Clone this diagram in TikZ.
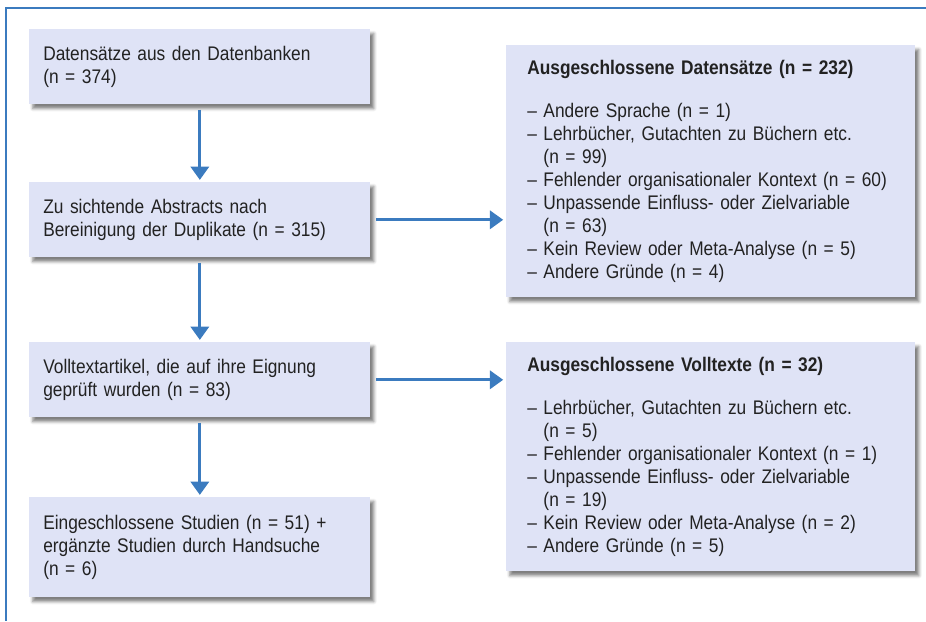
\documentclass[tikz,border=0pt]{standalone}
\usepackage{fontspec}
\setmainfont{Liberation Sans}[FakeStretch=0.88]
\usetikzlibrary{positioning,arrows.meta,calc,shadows.blur}
\definecolor{rahmen}{HTML}{3B7BBF}
\definecolor{kasten}{HTML}{DFE3F6}
\definecolor{schrift}{HTML}{222222}
\newcommand{\weiter}{\phantom{–}\ }

\begin{document}
\begin{tikzpicture}[x=0.025cm,y=-0.025cm,
  box/.style={fill=kasten,anchor=north west,align=left,text=schrift,
    blur shadow={shadow xshift=2.5pt,shadow yshift=-3pt,shadow opacity=50},
    font=\fontsize{14}{16.4}\selectfont},
  lbox/.style={box,inner xsep=0.35cm,text width=7.825cm},
  rbox/.style={box,inner xsep=0.525cm,text width=9.175cm},
  pfeil/.style={draw=rahmen,line width=2.1pt,-{Triangle[width=13pt,length=9.5pt]}}]
\useasboundingbox (0,0) rectangle (926,621);
\draw[rahmen,line width=1.5pt] (926,8) -- (6,8) -- (6,621);
% linke Spalte
\node[lbox,minimum height=1.875cm] (daten) at (29,29) {Datensätze aus den Datenbanken\\(n = 374)};
\node[lbox,minimum height=1.875cm] (abstracts) at (29,182) {Zu sichtende Abstracts nach\\Bereinigung der Duplikate (n = 315)};
\node[lbox,minimum height=1.875cm] (volltext) at (29,342) {Volltextartikel, die auf ihre Eignung\\geprüft wurden (n = 83)};
\node[lbox,minimum height=2.5cm] (studien) at (29,497) {Eingeschlossene Studien (n = 51) +\\ergänzte Studien durch Handsuche\\(n = 6)};
% rechte Spalte
\node[rbox,minimum height=6.3cm] (ausdaten) at (506,45) {\textbf{Ausgeschlossene Datensätze (n = 232)}\\[14pt]
– Andere Sprache (n = 1)\\
– Lehrbücher, Gutachten zu Büchern etc.\\
\weiter(n = 99)\\
– Fehlender organisationaler Kontext (n = 60)\\
– Unpassende Einfluss- oder Zielvariable\\
\weiter(n = 63)\\
– Kein Review oder Meta-Analyse (n = 5)\\
– Andere Gründe (n = 4)};
\node[rbox,minimum height=5.725cm] (ausvoll) at (506,342) {\textbf{Ausgeschlossene Volltexte (n = 32)}\\[14pt]
– Lehrbücher, Gutachten zu Büchern etc.\\
\weiter(n = 5)\\
– Fehlender organisationaler Kontext (n = 1)\\
– Unpassende Einfluss- oder Zielvariable\\
\weiter(n = 19)\\
– Kein Review oder Meta-Analyse (n = 2)\\
– Andere Gründe (n = 5)};
% Pfeile
\draw[pfeil,shorten <=3.5pt,shorten >=1.5pt] (daten) -- (abstracts);
\draw[pfeil,shorten <=3.5pt,shorten >=1.5pt] (abstracts) -- (volltext);
\draw[pfeil,shorten <=3.5pt,shorten >=1.5pt] (volltext) -- (studien);
\draw[pfeil,shorten <=4pt,shorten >=2pt] (abstracts.east) -- (abstracts.east -| ausdaten.west);
\draw[pfeil,shorten <=4pt,shorten >=2pt] (volltext.east) -- (volltext.east -| ausvoll.west);
\end{tikzpicture}
\end{document}
